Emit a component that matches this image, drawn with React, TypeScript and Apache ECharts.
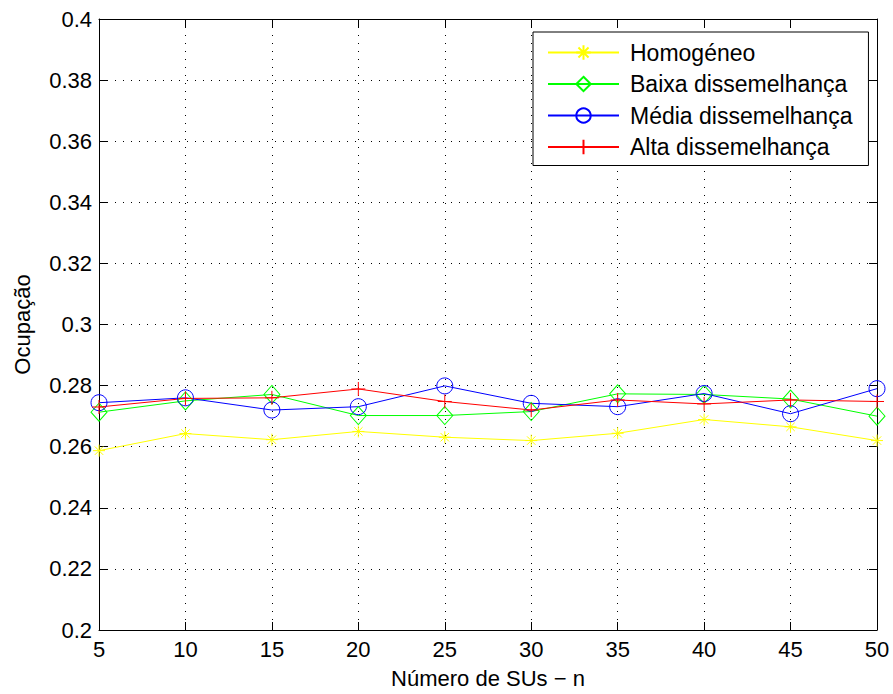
import React, { useEffect, useRef } from "react";
import * as echarts from "echarts";

const xValues = [5, 10, 15, 20, 25, 30, 35, 40, 45, 50];
const homogeneo = [0.2587, 0.2643, 0.2623, 0.265, 0.2631, 0.262, 0.2644, 0.2689, 0.2665, 0.262];
const baixa = [0.2713, 0.275, 0.2771, 0.2702, 0.2702, 0.2715, 0.2773, 0.2771, 0.2756, 0.27];
const media = [0.2744, 0.276, 0.272, 0.2731, 0.2799, 0.2742, 0.2731, 0.2774, 0.2708, 0.279];
const alta = [0.273, 0.2758, 0.276, 0.2789, 0.2748, 0.272, 0.2753, 0.274, 0.2753, 0.2748];

const seriesNames = ["Homogéneo", "Baixa dissemelhança", "Média dissemelhança", "Alta dissemelhança"];
const FONT = "'Liberation Sans', Arial, Helvetica, sans-serif";
const FS = 22;

const starPath = "path://M0,-10 L0,10 M-10,0 L10,0 M-7,-7 L7,7 M-7,7 L7,-7";
const plusPath = "path://M0,-10 L0,10 M-10,0 L10,0";

export default function App() {
  const ref = useRef<HTMLDivElement>(null);
  useEffect(() => {
    if (!ref.current) return;
    const chart = echarts.init(ref.current, null, { renderer: "svg" });
    const mk = (name: string, data: number[], color: string, symbol: string, size: any) => ({
      name,
      type: "line",
      data: xValues.map((x, i) => [x, data[i]]),
      symbol,
      symbolSize: size,
      showAllSymbol: true,
      lineStyle: { color, width: 1 },
      itemStyle: { color: "rgba(0,0,0,0)", borderColor: color, borderWidth: 1 },
      emphasis: { disabled: true },
    });
    const xBase = { type: "value", min: 5, max: 50, interval: 5 };
    const yBase = { type: "value", min: 0.2, max: 0.4, interval: 0.02 };
    const tick = { show: true, inside: true, length: 8, lineStyle: { color: "#000" } };
    const line = { show: true, lineStyle: { color: "#000", width: 1 } };
    const grid = { show: true, lineStyle: { color: "#000", type: [1, 7], width: 1 } };
    chart.setOption({
      animation: false,
      backgroundColor: "#fff",
      grid: { left: 99, right: 16, top: 19, bottom: 62 },
      legend: {
        left: 533,
        top: 32,
        orient: "vertical",
        backgroundColor: "#fff",
        borderColor: "#000",
        borderWidth: 1,
        padding: [9, 16, 7, 14],
        itemWidth: 71,
        itemHeight: 18,
        itemGap: 8.5,
        textStyle: { fontFamily: FONT, fontSize: 23, lineHeight: 22, color: "#000", padding: [0, 0, 0, 6] },
        data: seriesNames,
      },
      xAxis: [
        {
          ...xBase,
          position: "bottom",
          name: "Número de SUs − n",
          nameLocation: "middle",
          nameGap: 37,
          nameTextStyle: { fontFamily: FONT, fontSize: FS, color: "#000" },
          axisLine: line,
          axisTick: tick,
          axisLabel: { fontFamily: FONT, fontSize: FS, color: "#000", margin: 8 },
          splitLine: grid,
        },
        {
          ...xBase,
          position: "top",
          axisLine: line,
          axisTick: tick,
          axisLabel: { show: false },
          splitLine: { show: false },
        },
      ],
      yAxis: [
        {
          ...yBase,
          position: "left",
          name: "Ocupação",
          nameLocation: "middle",
          nameGap: 66,
          nameTextStyle: { fontFamily: FONT, fontSize: FS, color: "#000" },
          axisLine: line,
          axisTick: tick,
          axisLabel: {
            fontFamily: FONT,
            fontSize: FS,
            color: "#000",
            margin: 7,
            formatter: (v: number) => String(parseFloat(v.toFixed(2))),
          },
          splitLine: grid,
        },
        {
          ...yBase,
          position: "right",
          axisLine: line,
          axisTick: tick,
          axisLabel: { show: false },
          splitLine: { show: false },
        },
      ],
      series: [
        mk(seriesNames[0], homogeneo, "#ffff00", starPath, 12),
        mk(seriesNames[1], baixa, "#00ff00", "diamond", [16, 18]),
        mk(seriesNames[2], media, "#0000ff", "circle", 16),
        mk(seriesNames[3], alta, "#ff0000", plusPath, 14),
      ],
    });
    return () => chart.dispose();
  }, []);
  return <div ref={ref} style={{ width: 893, height: 694, position: "absolute", left: 0, top: 0 }} />;
}
